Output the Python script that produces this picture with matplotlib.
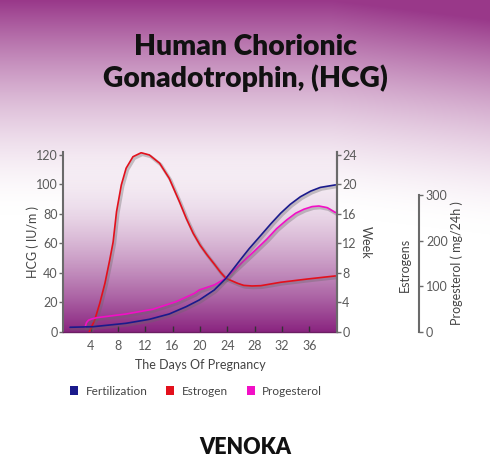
import numpy as np
import matplotlib
matplotlib.use("Agg")
import matplotlib.pyplot as plt
import matplotlib.patheffects as pe
from matplotlib.patches import Patch

# days of pregnancy (x) vs HCG scale (left axis, 0-120)
fert_x = [1.0, 4.4, 9.2, 12.6, 15.5, 18.0, 19.9, 22.1, 23.8, 25.0, 26.0, 27.2, 28.9,
          30.4, 31.8, 33.2, 34.7, 36.2, 37.6, 39.8]
fert_y = [3.2, 3.6, 5.9, 8.6, 12.2, 17.2, 21.7, 28.5, 36.4, 43.5, 49.5, 56.5, 65.5,
          73.5, 80.5, 86.5, 91.7, 95.5, 98.0, 99.7]

estr_x = [3.8, 4.6, 5.35, 6.1, 6.8, 7.3, 7.8, 8.5, 9.2, 10.2, 11.4, 12.6, 14.1, 15.5,
          17.0, 18.0, 19.0, 20.0, 21.0, 22.1, 23.0, 23.8, 25.5, 26.4, 27.6, 28.9,
          31.8, 35.7, 39.8]
estr_y = [0, 8, 19.5, 33, 48.8, 61, 81.6, 99.7, 111, 118.8, 121.5, 120, 114.4, 104.2,
          88.3, 77, 67, 59, 52.5, 46, 40.5, 36.4, 33, 31.6, 31.2, 31.4,
          33.7, 35.9, 38]

prog_x = [3.2, 3.4, 3.7, 4.15, 4.9, 9.2, 13.1, 16.5, 19.2, 19.9, 22.1, 23.8, 25.0,
          26.5, 28.0, 29.8, 31.2, 32.7, 34.0, 35.2, 36.4, 37.4, 38.6, 39.8]
prog_y = [3.2, 6.3, 8.0, 8.8, 9.7, 12.2, 15.4, 20.5, 26.2, 28.5, 31.9, 36.4, 42.0,
          48.5, 55.0, 63.0, 70.0, 76.0, 80.5, 83.2, 85.0, 85.4, 84.3, 81.0]

day_ticks = [4, 8, 12, 16, 20, 24, 28, 32, 36]
hcg_ticks = [0, 20, 40, 60, 80, 100, 120]
week_ticks = [0, 4, 8, 12, 16, 20, 24]
prog_ticks = [0, 100, 200, 300]

NAVY, RED, MAGENTA = "#1a1a8c", "#e3101c", "#f20fc6"
GRAY = "#5a5a5a"
plt.rcParams["font.family"] = ["Lato", "DejaVu Sans"]

W, H = 490, 458
fig = plt.figure(figsize=(W / 100, H / 100), dpi=100)

# page background: purple fading to white from the top
bg = fig.add_axes([0, 0, 1, 1], zorder=-10)
yy, xx = np.mgrid[0:H, 0:W]
t = np.clip(1 - (yy - 0.12 * np.clip(xx - 330, 0, None)) / 215.0, 0, 1) ** 1.7
top = np.array([0.60, 0.22, 0.54])
img = 1 - t[..., None] * (1 - top)
bg.imshow(img, aspect="auto", extent=[0, 1, 0, 1])
bg.axis("off")

def fx(px):
    return px / W

def fy(py):
    return 1 - py / H

ax = fig.add_axes([fx(63.2), fy(332), fx(336.7) - fx(63.2), fy(152) - fy(332)])
ax.set_facecolor("none")
ax.set_xlim(0, 40)
ax.set_ylim(0, 122)

# plot-area gradient: transparent at top, deep purple at the bottom
g = np.linspace(0, 1, 256) ** 1.6
grad = np.zeros((256, 2, 4))
grad[..., :3] = [0.54, 0.14, 0.50]
grad[..., 3] = g[:, None]
ax.imshow(grad[::-1], aspect="auto", extent=[0, 40, 0, 122], origin="lower", zorder=0)

shadow = [pe.SimpleLineShadow(offset=(1.0, -1.2), shadow_color="#666666", alpha=0.35, linewidth=2.4),
          pe.Normal()]
ax.plot(estr_x, estr_y, color=RED, lw=1.2, zorder=3, path_effects=shadow, solid_capstyle="round")
ax.plot(prog_x, prog_y, color=MAGENTA, lw=1.2, zorder=3, path_effects=shadow, solid_capstyle="round")
ax.plot(fert_x, fert_y, color=NAVY, lw=1.2, zorder=4, path_effects=shadow, solid_capstyle="round")

for s in ["left", "right"]:
    ax.spines[s].set_color("#6a6a6a")
    ax.spines[s].set_linewidth(1.5)
ax.spines["top"].set_visible(False)
ax.spines["bottom"].set_color("#6b1f63")
ax.spines["bottom"].set_linewidth(1.0)

ax.set_xticks(day_ticks)
ax.set_yticks(hcg_ticks)
ax.tick_params(axis="x", direction="in", length=4, width=1, color="#333333",
               labelsize=9, labelcolor=GRAY, pad=6)
ax.tick_params(axis="y", direction="out", length=3, width=1, color="#6a6a6a",
               labelsize=9, labelcolor=GRAY, pad=1)
ax.set_xlabel("The Days Of Pregnancy", fontsize=9, color="#444444", labelpad=5)
ax.set_ylabel("HCG ( IU/m )", fontsize=9, color="#444444", labelpad=-2)

axw = ax.twinx()
axw.set_ylim(0, 24.4)
axw.set_yticks(week_ticks)
axw.tick_params(axis="y", direction="out", length=3, width=1, color="#6a6a6a",
                labelsize=9, labelcolor=GRAY, pad=1)
for s in ["left", "top", "bottom"]:
    axw.spines[s].set_visible(False)
axw.spines["right"].set_color("#6a6a6a")
axw.spines["right"].set_linewidth(1.5)
axw.set_ylabel("Week", fontsize=9, color="#444444", rotation=-90, labelpad=11)

# separate progesterone / estrogens scale
ap = fig.add_axes([fx(409), fy(332), fx(419) - fx(409), fy(195) - fy(332)])
ap.set_facecolor("none")
ap.set_ylim(0, 300)
ap.set_xticks([])
ap.set_yticks(prog_ticks)
ap.yaxis.tick_right()
for s in ["left", "top", "bottom"]:
    ap.spines[s].set_visible(False)
ap.spines["right"].set_color("#6a6a6a")
ap.spines["right"].set_linewidth(1.5)
ap.tick_params(axis="y", direction="out", length=3, width=1, color="#6a6a6a",
               labelsize=9, labelcolor=GRAY, pad=2)
fig.text(fx(405), fy(265), "Estrogens", rotation=90, ha="center", va="center",
         fontsize=9, color="#444444")
fig.text(fx(457), fy(263), "Progesterol ( mg/24h )", rotation=90, ha="center", va="center",
         fontsize=9, color="#444444")

fig.text(fx(245), fy(47), "Human Chorionic", ha="center", va="center",
         fontsize=20.3, fontweight="heavy", color="#111111")
fig.text(fx(245), fy(78), "Gonadotrophin, (HCG)", ha="center", va="center",
         fontsize=20.3, fontweight="heavy", color="#111111")

handles = [Patch(facecolor=c, edgecolor="none", label=l)
           for c, l in [(NAVY, "Fertilization"), (RED, "Estrogen"), (MAGENTA, "Progesterol")]]
fig.legend(handles=handles, loc="center", bbox_to_anchor=(fx(196), fy(391)), ncol=3,
           frameon=False, fontsize=8.5, handlelength=0.7, handleheight=0.7,
           handletextpad=0.6, columnspacing=1.6, labelcolor="#444444")

fig.text(fx(245), fy(454), "VENOKA", ha="center", va="baseline", fontsize=15.5,
         fontweight="heavy", color="#111111")

fig.savefig("out.png", dpi=100)
